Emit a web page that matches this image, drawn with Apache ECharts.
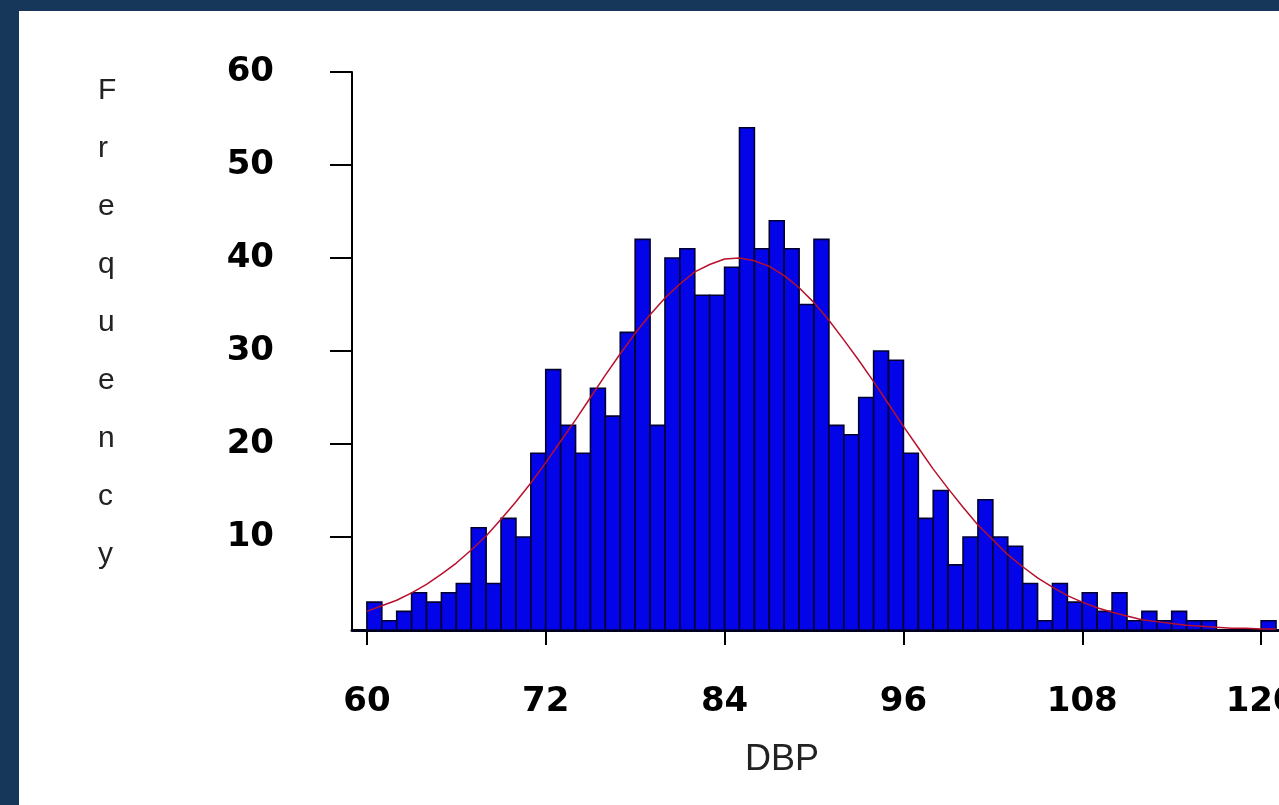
<!DOCTYPE html>
<html>
<head>
<meta charset="utf-8">
<script src="https://cdn.jsdelivr.net/npm/echarts@6/dist/echarts.min.js"></script>
<style>
  html, body { margin: 0; padding: 0; width: 1279px; height: 805px; overflow: hidden; background: #17375a; }
  #paper { position: absolute; left: 19px; top: 11px; width: 1260px; height: 794px; background: #ffffff; }
  #chart { position: absolute; left: 0; top: 0; width: 1279px; height: 805px; }
</style>
</head>
<body>
<div id="paper"></div>
<div id="chart"></div>
<script>
// Histogram bins (DBP, width 1) and their frequencies
const binStart = [60,61,62,63,64,65,66,67,68,69,70,71,72,73,74,75,76,77,78,79,80,81,82,83,84,85,86,87,88,89,90,
                  91,92,93,94,95,96,97,98,99,100,101,102,103,104,105,106,107,108,109,110,111,112,113,114,115,116,117,118,119,120];
const counts   = [3,1,2,4,3,4,5,11,5,12,10,19,28,22,19,26,23,32,42,22,40,41,36,36,39,54,41,44,41,35,42,
                  22,21,25,30,29,19,12,15,7,10,14,10,9,5,1,5,3,4,2,4,1,2,1,2,1,1,0,0,0,1];
// Fitted normal curve
const curveX = [60,61,62,63,64,65,66,67,68,69,70,71,72,73,74,75,76,77,78,79,80,81,82,83,84,85,86,87,88,89,90,
                91,92,93,94,95,96,97,98,99,100,101,102,103,104,105,106,107,108,109,110,111,112,113,114,115,116,117,118,119,120,121];
const curveY = [2.0,2.6,3.2,4.0,4.9,6.0,7.2,8.6,10.1,11.9,13.8,15.8,18.0,20.3,22.6,25.0,27.4,29.7,31.9,33.9,35.7,37.2,38.5,39.3,39.9,40.0,39.7,39.1,38.1,36.8,35.2,
                33.3,31.2,29.0,26.7,24.3,21.9,19.6,17.3,15.2,13.2,11.3,9.7,8.1,6.8,5.6,4.6,3.7,3.0,2.4,1.9,1.5,1.1,0.9,0.7,0.5,0.4,0.3,0.2,0.2,0.1,0.1];
const xTicks = [60,72,84,96,108,120];
const yTicks = [10,20,30,40,50,60];
const xTitle = 'DBP';
const yTitle = 'Frequency';

const chart = echarts.init(document.getElementById('chart'), null, { renderer: 'canvas' });
const barData = binStart.map((b, i) => [b, b + 1, counts[i]]);
const lineData = curveX.map((x, i) => [x, curveY[i]]);

chart.setOption({
  animation: false,
  backgroundColor: 'transparent',
  grid: { left: 352, right: 0, top: 72, bottom: 175, containLabel: false, outerBoundsMode: 'none' },
  xAxis: {
    type: 'value', min: 59, max: 121.2,
    axisLine: { show: true, onZero: false, lineStyle: { color: '#000018', width: 3 } },
    axisTick: { show: true, customValues: xTicks, length: 15, lineStyle: { color: '#000000', width: 2 } },
    axisLabel: { customValues: xTicks, margin: 55, color: '#000000', fontFamily: 'DejaVu Sans', fontWeight: 'bold', fontSize: 34, hideOverlap: false },
    splitLine: { show: false }
  },
  yAxis: {
    type: 'value', min: 0, max: 60, interval: 10,
    axisLine: { show: true, lineStyle: { color: '#000000', width: 2 } },
    axisTick: { show: true, customValues: yTicks, length: 22, lineStyle: { color: '#000000', width: 2 } },
    axisLabel: { customValues: yTicks, margin: 78, color: '#000000', fontFamily: 'DejaVu Sans', fontWeight: 'bold', fontSize: 34 },
    splitLine: { show: false }
  },
  graphic: [
    { type: 'text', left: 98, top: 62, style: { text: yTitle.split('').join('\n'), font: '30px "Liberation Sans"', lineHeight: 58, fill: '#222222' } },
    { type: 'text', left: 745, top: 742, style: { text: xTitle, font: '36px "Liberation Sans"', fill: '#222222' } }
  ],
  series: [
    {
      type: 'custom',
      data: barData,
      encode: { x: [0, 1], y: 2 },
      clip: false,
      renderItem: function (params, api) {
        const h = api.value(2);
        if (!h) return null;
        const p0 = api.coord([api.value(0), 0]);
        const p1 = api.coord([api.value(1), h]);
        return {
          type: 'rect',
          shape: { x: p0[0], y: p1[1], width: p1[0] - p0[0], height: p0[1] - p1[1] },
          style: { fill: '#0404e8', stroke: '#000030', lineWidth: 1.6 }
        };
      },
      z: 2
    },
    {
      type: 'line',
      data: lineData,
      showSymbol: false,
      smooth: false,
      lineStyle: { color: '#b8102c', width: 1.5 },
      z: 5
    }
  ]
});
</script>
</body>
</html>
